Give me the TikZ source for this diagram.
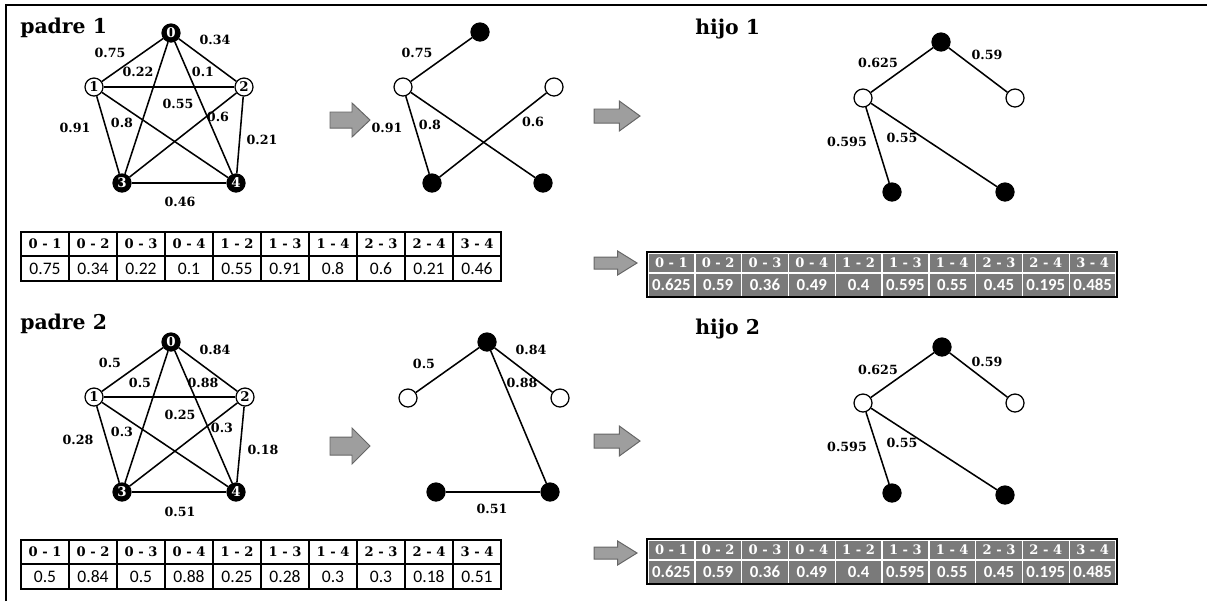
\documentclass[tikz,border=0pt]{standalone}
\usepackage{fontspec}
\newfontfamily\carlito{Carlito}
\newfontfamily\cambria{DejaVu Serif}

\tikzset{
  vert/.style={circle, draw, line width=0.9pt, inner sep=0pt, minimum size=0.45cm,
    font=\cambria\fontsize{9.5}{10}\selectfont\bfseries},
  negro/.style={vert, fill=black, text=white},
  blanco/.style={vert, fill=white},
  bola/.style={vert},
  peso/.style={font=\cambria\fontsize{9}{10}\selectfont\bfseries, inner sep=1pt},
  titulo/.style={font=\cambria\fontsize{14.5}{16}\selectfont\bfseries, anchor=base west, inner sep=0pt},
  arista/.style={line width=1.1pt},
  flechagris/.style={draw=black!60, fill=black!38, line width=0.7pt},
  pics/flecha/.style args={#1/#2/#3}{code={
    \draw[flechagris] (0,-#3) -- ({0.55*#1},-#3) -- ({0.55*#1},-#2) -- (#1,0)
      -- ({0.55*#1},#2) -- ({0.55*#1},#3) -- (0,#3) -- cycle;}},
  cabeza/.style={draw, line width=1.2pt, minimum width=1.2cm, minimum height=0.6cm,
    inner sep=0pt, font=\cambria\fontsize{9.3}{10}\selectfont\bfseries},
  valor/.style={cabeza, minimum height=0.625cm, font=\carlito\fontsize{12.5}{13}\selectfont},
  gcabeza/.style={draw=white, line width=1pt, fill=black!52, text=white, minimum width=1.17cm,
    minimum height=0.5cm, inner sep=0pt, font=\cambria\fontsize{9.3}{10}\selectfont\bfseries},
  gvalor/.style={gcabeza, minimum height=0.575cm, font=\carlito\fontsize{12}{13}\selectfont\bfseries}
}

\begin{document}
\begin{tikzpicture}[x=0.025cm, y=-0.025cm]
\useasboundingbox (0,0) rectangle (1207,601);

% frame
  \draw[line width=1pt] (6,601) -- (6,5) -- (1207,5);

% padre 1
  \node[titulo] (t1) at (20,33) {padre 1};
  \node[negro] (a0) at (171,33) {0};
  \node[blanco] (a1) at (94,87) {1};
  \node[blanco] (a2) at (244,87) {2};
  \node[negro] (a3) at (122,183) {3};
  \node[negro] (a4) at (236,183) {4};
  \foreach \u/\w in {0/1,0/2,0/3,0/4,1/2,1/3,1/4,2/3,2/4,3/4}
    \draw[arista] (a\u) -- (a\w);
  \node[peso] (p01) at (110,53) {0.75};
  \node[peso] (p02) at (215,40) {0.34};
  \node[peso] (p03) at (138,72) {0.22};
  \node[peso] (p04) at (203,72) {0.1};
  \node[peso] (p12) at (178,104) {0.55};
  \node[peso] (p13) at (75,128) {0.91};
  \node[peso] (p14) at (122,123) {0.8};
  \node[peso] (p23) at (218,117) {0.6};
  \node[peso] (p24) at (262,140) {0.21};
  \node[peso] (p34) at (180,202) {0.46};

% padre 2
  \node[titulo] (t2) at (20,329) {padre 2};
  \node[negro] (b0) at (171,342) {0};
  \node[blanco] (b1) at (94,397) {1};
  \node[blanco] (b2) at (245,397) {2};
  \node[negro] (b3) at (122,492) {3};
  \node[negro] (b4) at (236,492) {4};
  \foreach \u/\w in {0/1,0/2,0/3,0/4,1/2,1/3,1/4,2/3,2/4,3/4}
    \draw[arista] (b\u) -- (b\w);
  \node[peso] (q01) at (110,363) {0.5};
  \node[peso] (q02) at (215,350) {0.84};
  \node[peso] (q03) at (140,383) {0.5};
  \node[peso] (q04) at (203,383) {0.88};
  \node[peso] (q12) at (180,415) {0.25};
  \node[peso] (q13) at (78,440) {0.28};
  \node[peso] (q14) at (122,432) {0.3};
  \node[peso] (q23) at (222,428) {0.3};
  \node[peso] (q24) at (263,450) {0.18};
  \node[peso] (q34) at (180,512) {0.51};

% aristas elegidas 1
  \node[bola, fill=black] (c0) at (480,32) {};
  \node[bola, fill=white] (c1) at (403,87) {};
  \node[bola, fill=white] (c2) at (554,87) {};
  \node[bola, fill=black] (c3) at (432,183) {};
  \node[bola, fill=black] (c4) at (543,183) {};
  \draw[arista] (c0) -- (c1);
  \draw[arista] (c1) -- (c3);
  \draw[arista] (c1) -- (c4);
  \draw[arista] (c2) -- (c3);
  \node[peso] (r01) at (417,53) {0.75};
  \node[peso] (r13) at (387,128) {0.91};
  \node[peso] (r14) at (430,125) {0.8};
  \node[peso] (r23) at (533,122) {0.6};

% aristas elegidas 2
  \node[bola, fill=black] (d0) at (487,342) {};
  \node[bola, fill=white] (d1) at (408,398) {};
  \node[bola, fill=white] (d2) at (560,398) {};
  \node[bola, fill=black] (d3) at (436,492) {};
  \node[bola, fill=black] (d4) at (550,492) {};
  \draw[arista] (d0) -- (d1);
  \draw[arista] (d0) -- (d2);
  \draw[arista] (d0) -- (d4);
  \draw[arista] (d3) -- (d4);
  \node[peso] (s01) at (424,364) {0.5};
  \node[peso] (s02) at (531,350) {0.84};
  \node[peso] (s04) at (522,383) {0.88};
  \node[peso] (s34) at (492,509) {0.51};

% hijo 1
  \node[titulo] (t3) at (695,34) {hijo 1};
  \node[bola, fill=black] (e0) at (941,42) {};
  \node[bola, fill=white] (e1) at (863,98) {};
  \node[bola, fill=white] (e2) at (1015,98) {};
  \node[bola, fill=black] (e3) at (892,192) {};
  \node[bola, fill=black] (e4) at (1005,192) {};
  \draw[arista] (e0) -- (e1);
  \draw[arista] (e0) -- (e2);
  \draw[arista] (e1) -- (e3);
  \draw[arista] (e1) -- (e4);
  \node[peso] (u01) at (878,63) {0.625};
  \node[peso] (u02) at (987,55) {0.59};
  \node[peso] (u13) at (847,142) {0.595};
  \node[peso] (u14) at (902,138) {0.55};

% hijo 2
  \node[titulo] (t4) at (695,334) {hijo 2};
  \node[bola, fill=black] (f0) at (942,347) {};
  \node[bola, fill=white] (f1) at (863,403) {};
  \node[bola, fill=white] (f2) at (1015,403) {};
  \node[bola, fill=black] (f3) at (892,493) {};
  \node[bola, fill=black] (f4) at (1005,495) {};
  \draw[arista] (f0) -- (f1);
  \draw[arista] (f0) -- (f2);
  \draw[arista] (f1) -- (f3);
  \draw[arista] (f1) -- (f4);
  \node[peso] (v01) at (878,370) {0.625};
  \node[peso] (v02) at (987,362) {0.59};
  \node[peso] (v13) at (847,447) {0.595};
  \node[peso] (v14) at (902,443) {0.55};

% flechas
  \pic at (330,120) {flecha=40/17/8};
  \pic at (594,116) {flecha=46/15/7};
  \pic at (594,263) {flecha=43/12/6};
  \pic at (330,446) {flecha=40/18/9};
  \pic at (594,441) {flecha=46/15/7};
  \pic at (594,553) {flecha=43/12/6};

% tablas
  \foreach \i/\t/\v/\w/\g in {1/0 - 1/0.75/0.5/0.625, 2/0 - 2/0.34/0.84/0.59,
      3/0 - 3/0.22/0.5/0.36, 4/0 - 4/0.1/0.88/0.49, 5/1 - 2/0.55/0.25/0.4,
      6/1 - 3/0.91/0.28/0.595, 7/1 - 4/0.8/0.3/0.55, 8/2 - 3/0.6/0.3/0.45,
      9/2 - 4/0.21/0.18/0.195, 10/3 - 4/0.46/0.51/0.485} {
    \node[cabeza] (m1h\i) at ({45+48*(\i-1)},244) {\t};
    \node[valor] (m1v\i) at ({45+48*(\i-1)},268.5) {\v};
    \node[cabeza] (m2h\i) at ({45+48*(\i-1)},552) {\t};
    \node[valor] (m2v\i) at ({45+48*(\i-1)},576.5) {\w};
    \node[gcabeza] (g1h\i) at ({671.4+46.8*(\i-1)},263) {\t};
    \node[gvalor] (g1v\i) at ({671.4+46.8*(\i-1)},285) {\g};
    \node[gcabeza] (g2h\i) at ({671.4+46.8*(\i-1)},550) {\t};
    \node[gvalor] (g2v\i) at ({671.4+46.8*(\i-1)},572) {\g};
  }
  \draw[line width=1.3pt] (g1h1.north west) rectangle (g1v10.south east);
  \draw[line width=1.3pt] (g2h1.north west) rectangle (g2v10.south east);

\end{tikzpicture}
\end{document}
